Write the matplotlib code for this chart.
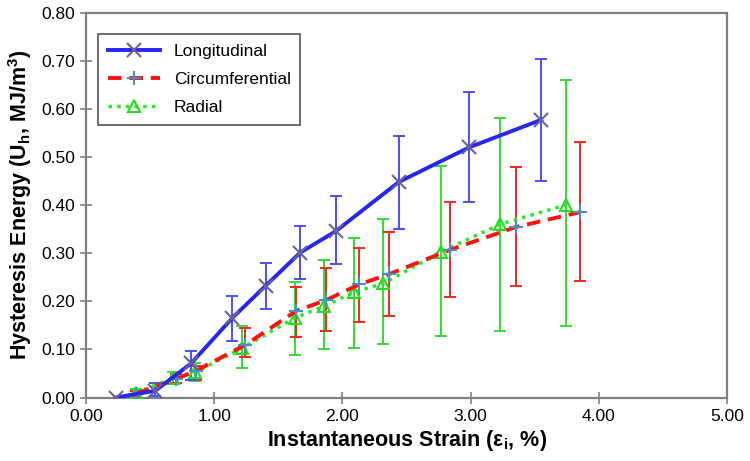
import matplotlib.pyplot as plt

plt.rcParams['font.family'] = ['Liberation Sans', 'DejaVu Sans']

# longitudinal series
long_x = [0.23, 0.54, 0.82, 1.14, 1.40, 1.67, 1.95, 2.44, 2.99, 3.55]
long_y = [0.000, 0.014, 0.071, 0.165, 0.232, 0.301, 0.346, 0.448, 0.520, 0.577]
long_lo = [0.000, 0.004, 0.036, 0.118, 0.184, 0.247, 0.277, 0.351, 0.406, 0.450]
long_hi = [0.000, 0.030, 0.097, 0.211, 0.280, 0.356, 0.418, 0.544, 0.634, 0.704]

# circumferential series
circ_x = [0.39, 0.70, 0.86, 1.24, 1.64, 1.87, 2.13, 2.36, 2.84, 3.35, 3.85]
circ_y = [0.008, 0.038, 0.056, 0.109, 0.180, 0.202, 0.235, 0.256, 0.307, 0.354, 0.385]
circ_lo = [0.002, 0.030, 0.036, 0.085, 0.125, 0.139, 0.157, 0.170, 0.208, 0.231, 0.242]
circ_hi = [0.014, 0.048, 0.066, 0.144, 0.230, 0.269, 0.310, 0.343, 0.406, 0.480, 0.531]

# radial series
rad_x = [0.39, 0.68, 0.85, 1.22, 1.63, 1.86, 2.09, 2.32, 2.77, 3.23, 3.74]
rad_y = [0.010, 0.040, 0.052, 0.103, 0.166, 0.190, 0.219, 0.237, 0.303, 0.360, 0.400]
rad_lo = [0.002, 0.028, 0.034, 0.062, 0.088, 0.100, 0.102, 0.111, 0.128, 0.138, 0.148]
rad_hi = [0.018, 0.052, 0.072, 0.148, 0.240, 0.285, 0.332, 0.372, 0.482, 0.580, 0.659]

x_ticks = [0, 1, 2, 3, 4, 5]
y_ticks = [0.0, 0.1, 0.2, 0.3, 0.4, 0.5, 0.6, 0.7, 0.8]


def err(y, lo, hi):
    return [[a - b for a, b in zip(y, lo)], [c - a for a, c in zip(y, hi)]]


fig = plt.figure(figsize=(7.5, 4.61), dpi=100)
ax = fig.add_axes([0.1147, 0.1377, 0.8547, 0.8351])

ax.errorbar(rad_x, rad_y, yerr=err(rad_y, rad_lo, rad_hi), fmt='none',
            ecolor='#33dd33', elinewidth=1.4, capsize=4, capthick=1.4, zorder=2)
ax.errorbar(circ_x, circ_y, yerr=err(circ_y, circ_lo, circ_hi), fmt='none',
            ecolor='#ff2020', elinewidth=1.4, capsize=4, capthick=1.4, zorder=2)
ax.errorbar(long_x, long_y, yerr=err(long_y, long_lo, long_hi), fmt='none',
            ecolor='#4d4dff', elinewidth=1.4, capsize=4, capthick=1.4, zorder=2)

ax.plot(long_x, long_y, color='#2626ee', lw=2.8, marker='x', ms=10,
        mec='#6b5f9c', mew=1.5, label='Longitudinal', zorder=5)
ax.plot(circ_x, circ_y, color='#ff1010', lw=2.8, ls=(0, (3.5, 2)), marker='+',
        ms=10, mec='#4a8ec4', mew=1.5, label='Circumferential', zorder=4)
ax.plot(rad_x, rad_y, color='#22ee22', lw=2.5, ls=(0, (1, 1.5)), marker='^',
        ms=8, mfc='none', mec='#22dd22', mew=1.5, label='Radial', zorder=3)

ax.set_xlim(0, 5)
ax.set_ylim(0, 0.8)
ax.set_xticks(x_ticks)
ax.set_yticks(y_ticks)
ax.set_xticklabels([f'{t:.2f}' for t in x_ticks], fontsize=12.5)
ax.set_yticklabels([f'{t:.2f}' for t in y_ticks], fontsize=12.5)
ax.tick_params(direction='inout', length=8, width=1.2, color='#808080', pad=4)

for s in ax.spines.values():
    s.set_color('#808080')
    s.set_linewidth(1.6)

ax.set_xlabel('Instantaneous Strain (ε$_\\mathregular{i}$, %)', fontsize=15.5,
              fontweight='bold', labelpad=3)
ax.set_ylabel('Hysteresis Energy (U$_\\mathregular{h}$, MJ/m$^\\mathregular{3}$)',
              fontsize=15.5, fontweight='bold', labelpad=5)

leg = ax.legend(loc='upper left', bbox_to_anchor=(0.019, 0.944), borderaxespad=0,
                fontsize=12.5, fancybox=False, framealpha=1, edgecolor='#555555',
                handlelength=3.0, borderpad=0.55, labelspacing=0.75)
leg.get_frame().set_linewidth(1.2)

plt.savefig('out.png', dpi=100)
